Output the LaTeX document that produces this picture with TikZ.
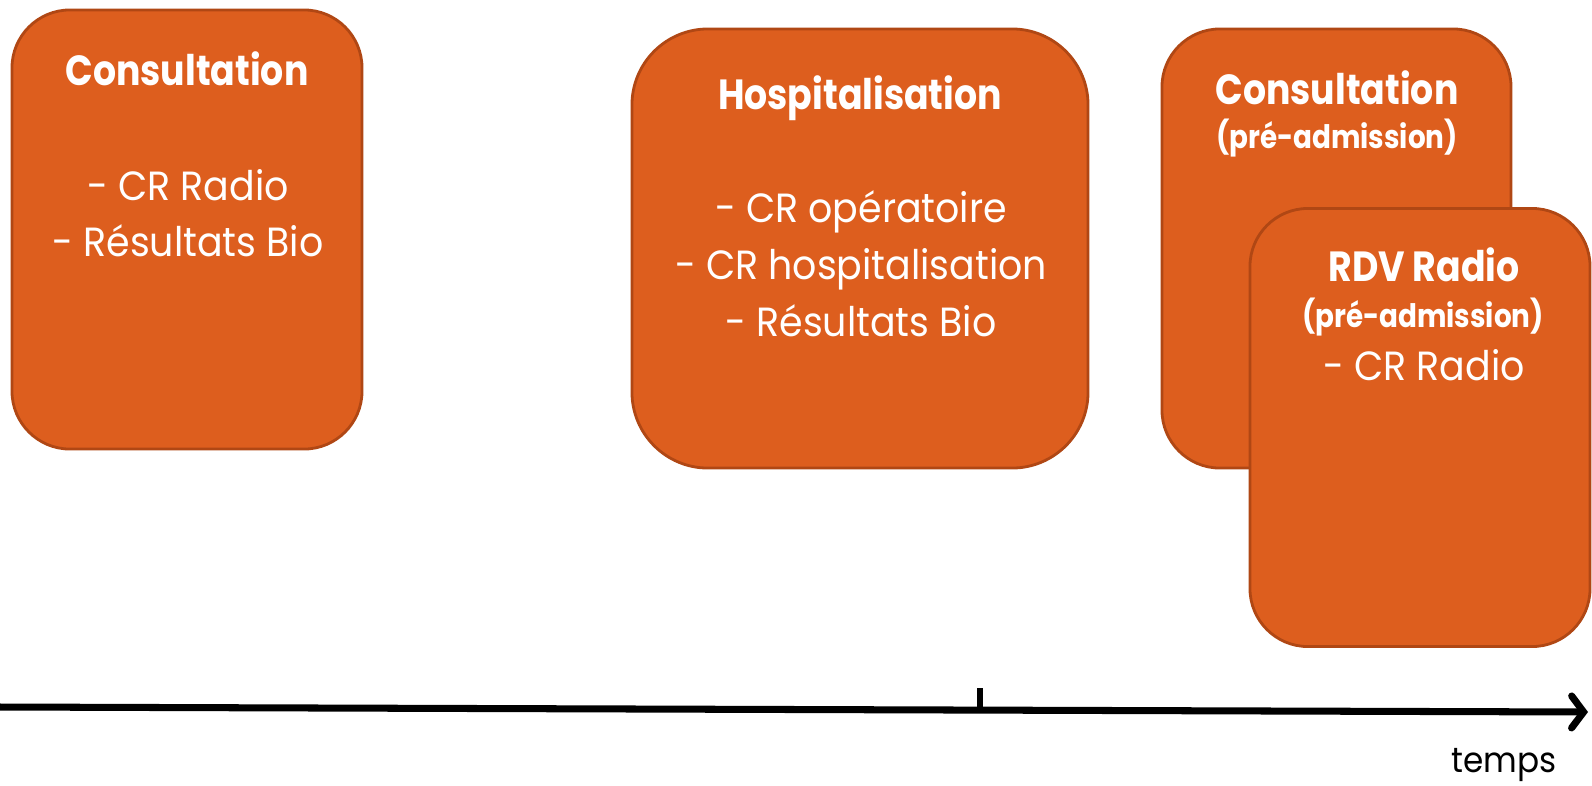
\documentclass[tikz,border=0pt]{standalone}
\usepackage{fontspec}
\setmainfont[FakeStretch=0.93,BoldFeatures={FakeStretch=0.86}]{Poppins}
\usetikzlibrary{arrows.meta,positioning}
\definecolor{boxfill}{RGB}{221,94,30}
\definecolor{boxline}{RGB}{176,71,20}
\begin{document}
\begin{tikzpicture}
    [   x=0.025cm, y=-0.025cm,
        box/.style={draw=boxline,fill=boxfill,line width=2pt,inner sep=0pt,rounded corners=#1},
        title/.style={text=white,anchor=base,font=\bfseries\fontsize{30}{30}\selectfont},
        sub/.style={text=white,anchor=base,font=\bfseries\fontsize{23}{23}\selectfont},
        item/.style={text=white,anchor=base,font=\fontsize{29}{29}\selectfont},
        axis/.style={line width=5pt,black},
    ]
        \useasboundingbox (0,0) rectangle (1592,785);
        % boxes
        \node[box=1.45cm,minimum width=8.75cm,minimum height=10.975cm] (cons) at (187,229.5) {};
        \node[box=1.9cm,minimum width=11.4cm,minimum height=10.975cm] (hosp) at (860,248.5) {};
        \node[box=1.45cm,minimum width=8.725cm,minimum height=10.975cm] (pre) at (1336.5,248.5) {};
        \node[box=1.45cm,minimum width=8.5cm,minimum height=10.95cm] (rdv) at (1420,427.5) {};
        % texts
        \node[title] (cons-t) at (187,85) {Consultation};
        \foreach \t [count=\i] in {- CR Radio,- Résultats Bio}
        {   \node[item] (cons-\i) at (188,{144+56*\i}) {\t};
        }
        \node[title] (hosp-t) at (860,109) {Hospitalisation};
        \foreach \t [count=\i] in {- CR opératoire,- CR hospitalisation,- Résultats Bio}
        {   \node[item] (hosp-\i) at (861,{165+57*\i}) {\t};
        }
        \node[title] (pre-t) at (1337,104) {Consultation};
        \node[sub] (pre-s) at (1337,148) {(pré-admission)};
        \node[title] (rdv-t) at (1424,281) {RDV Radio};
        \node[sub] (rdv-s) at (1423,327) {(pré-admission)};
        \node[item] (rdv-1) at (1424,380) {- CR Radio};
        % time axis
        \coordinate (t0) at (0,707);
        \coordinate (t1) at (1588,712);
        \coordinate (k0) at (980,688);
        \coordinate (k1) at (980,711);
        \draw[axis,-{Straight Barb[length=0.3cm,width=0.8cm,line cap=round]}] (t0) -- (t1);
        \draw[line width=4pt] (k0) -- (k1);
        \node[anchor=base,font=\fontsize{25}{25}\selectfont] (temps) at (1504,772) {temps};
    \end{tikzpicture}
\end{document}
